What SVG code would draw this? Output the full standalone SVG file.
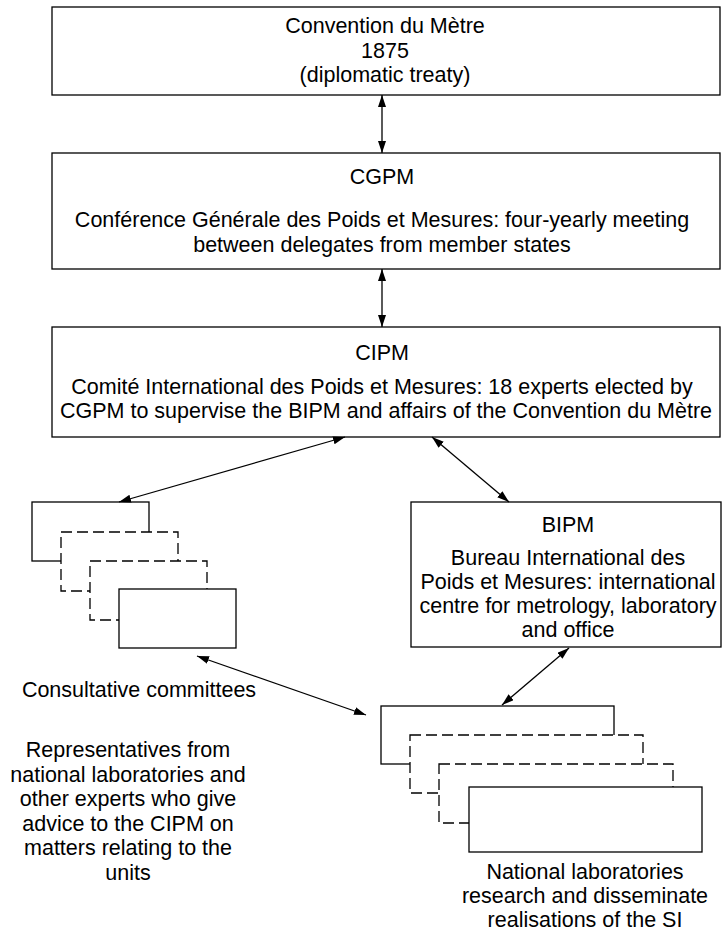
<svg xmlns="http://www.w3.org/2000/svg" width="724" height="932" viewBox="0 0 724 932">
<style>
  .box { fill: #ffffff; stroke: #000000; stroke-width: 1.3; }
  .dash { fill: #ffffff; stroke: #000000; stroke-width: 1.3; stroke-dasharray: 11 5; }
  .t { font-family: "Liberation Sans", Arial, Helvetica, sans-serif; font-size: 21.5px; fill: #000000; text-anchor: middle; }
  .conn { stroke: #000000; stroke-width: 1.3; fill: none; marker-start: url(#ah); marker-end: url(#ah); }
</style>
<defs>
  <marker id="ah" markerUnits="userSpaceOnUse" markerWidth="13" markerHeight="9" refX="12" refY="4" orient="auto-start-reverse">
    <path d="M0,0 L12,4 L0,8 z" fill="#000000"/>
  </marker>
</defs>
<rect width="724" height="932" fill="#ffffff"/>

<g id="convention">
  <rect class="box" x="52" y="7" width="668" height="88"/>
  <text class="t" x="385" y="33">Convention du Mètre</text>
  <text class="t" x="385" y="58">1875</text>
  <text class="t" x="385" y="82">(diplomatic treaty)</text>
</g>

<g id="cgpm">
  <rect class="box" x="52" y="153" width="668" height="116"/>
  <text class="t" x="382" y="184">CGPM</text>
  <text class="t" x="382" y="227">Conférence Générale des Poids et Mesures: four-yearly meeting</text>
  <text class="t" x="382" y="252">between delegates from member states</text>
</g>

<g id="cipm">
  <rect class="box" x="52" y="327" width="668" height="110"/>
  <text class="t" x="382" y="360">CIPM</text>
  <text class="t" x="382" y="394">Comité International des Poids et Mesures: 18 experts elected by</text>
  <text class="t" x="386" y="418">CGPM to supervise the BIPM and affairs of the Convention du Mètre</text>
</g>

<g id="bipm">
  <rect class="box" x="411" y="502" width="310" height="145"/>
  <text class="t" x="568" y="532">BIPM</text>
  <text class="t" x="568" y="565">Bureau International des</text>
  <text class="t" x="568" y="589">Poids et Mesures: international</text>
  <text class="t" x="568" y="613">centre for metrology, laboratory</text>
  <text class="t" x="568" y="637">and office</text>
</g>

<g id="consultative-committees">
  <rect class="box" x="32" y="502" width="117" height="59"/>
  <rect class="dash" x="61" y="532" width="117" height="59"/>
  <rect class="dash" x="90" y="561" width="117" height="59"/>
  <rect class="box" x="119" y="589" width="117" height="59"/>
  <text class="t" x="139" y="697">Consultative committees</text>
  <text class="t" x="128" y="757">Representatives from</text>
  <text class="t" x="128" y="782">national laboratories and</text>
  <text class="t" x="128" y="806">other experts who give</text>
  <text class="t" x="128" y="831">advice to the CIPM on</text>
  <text class="t" x="128" y="855">matters relating to the</text>
  <text class="t" x="128" y="880">units</text>
</g>

<g id="national-laboratories">
  <rect class="box" x="381" y="706" width="233" height="58"/>
  <rect class="dash" x="410" y="735" width="233" height="58"/>
  <rect class="dash" x="439" y="764" width="234" height="59"/>
  <rect class="box" x="469" y="787" width="233" height="65"/>
  <text class="t" x="585" y="879">National laboratories</text>
  <text class="t" x="585" y="903">research and disseminate</text>
  <text class="t" x="585" y="927">realisations of the SI</text>
</g>

<g id="connectors">
  <line class="conn" x1="382" y1="95" x2="382" y2="153"/>
  <line class="conn" x1="382" y1="269" x2="382" y2="327"/>
  <line class="conn" x1="345" y1="437" x2="119" y2="502"/>
  <line class="conn" x1="432" y1="437" x2="509" y2="502"/>
  <line class="conn" x1="569" y1="648" x2="502" y2="705"/>
  <line class="conn" x1="197" y1="656" x2="366" y2="715"/>
</g>
</svg>
